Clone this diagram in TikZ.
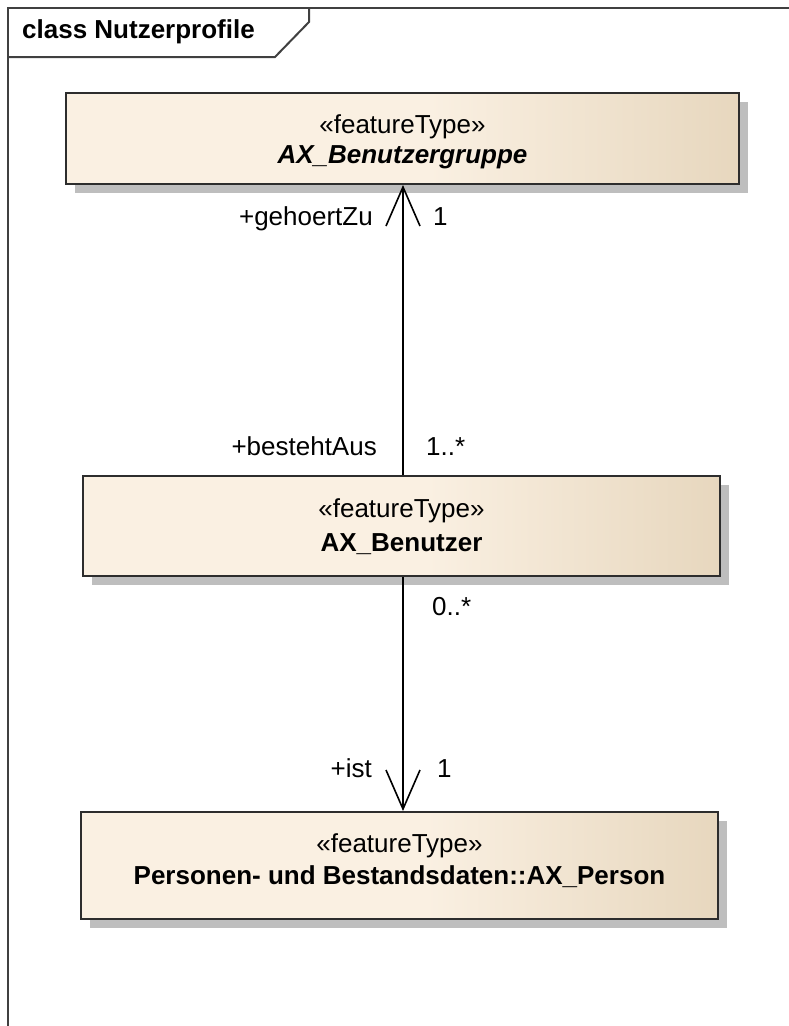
\documentclass[tikz,border=0pt]{standalone}
\usepackage{fontspec}
\setmainfont{Liberation Sans}
\usetikzlibrary{arrows.meta,shadows}
\definecolor{boxL}{RGB}{250,240,226}
\definecolor{boxR}{RGB}{231,215,190}
\definecolor{edge}{RGB}{45,45,45}
\definecolor{frameC}{RGB}{64,64,64}
\definecolor{shadowC}{RGB}{190,190,190}
\pgfdeclarehorizontalshading{umlbox}{100bp}{color(0bp)=(boxL); color(25bp)=(boxL); color(52bp)=(boxL); color(75bp)=(boxR); color(100bp)=(boxR)}
\tikzset{
  classbox/.style={draw=edge, line width=2pt, shade, shading=umlbox, rectangle, inner sep=0pt,
    drop shadow={shadow xshift=9pt, shadow yshift=-9pt, fill=shadowC, opacity=1}},
  txt/.style={font=\fontsize{26}{30}\selectfont, inner sep=0pt, anchor=base},
  bold/.style={txt, font=\fontsize{26}{30}\selectfont\bfseries},
  bolditalic/.style={txt, font=\fontsize{26}{30}\selectfont\bfseries\itshape},
  role/.style={font=\fontsize{26}{30}\selectfont, inner sep=0pt},
  assoc/.style={line width=1.6pt, draw=black, -{Straight Barb[length=39pt, width=34pt, line width=1.6pt]}},
}
\begin{document}
\begin{tikzpicture}[x=1pt, y=-1pt]
\useasboundingbox (0,0) rectangle (788,1026);
% frame
\draw[frameC, line width=2pt] (8,1040) -- (8,8) -- (800,8);
\draw[frameC, line width=2pt] (8,57) -- (275,57) -- (309,22) -- (309,8);
\node[bold, anchor=base west] (title) at (22,38) {class Nutzerprofile};
% boxes
\node[classbox, minimum width=673pt, minimum height=91pt] (b1) at (402.5,138.5) {};
\node[classbox, minimum width=637pt, minimum height=100pt] (b2) at (401.5,526) {};
\node[classbox, minimum width=637pt, minimum height=107pt] (b3) at (399.5,865.5) {};
% box texts
\node[txt] (b1s) at (402.5,133) {«featureType»};
\node[bolditalic] (b1n) at (402.5,163) {AX\_Benutzergruppe};
\node[txt] (b2s) at (401.5,517) {«featureType»};
\node[bold] (b2n) at (401.5,551) {AX\_Benutzer};
\node[txt] (b3s) at (399.5,852) {«featureType»};
\node[bold] (b3n) at (399.5,884) {Personen- und Bestandsdaten::AX\_Person};
% connectors
\coordinate (cx) at (403,0);
\draw[assoc] (b2.north -| cx) -- (b1.south -| cx);
\draw[assoc] (b2.south -| cx) -- (b3.north -| cx);
% role labels
\node[role, anchor=base east] (r1) at (373,225) {+gehoertZu};
\node[role, anchor=base west] (m1) at (433,225) {1};
\node[role, anchor=base east] (r2) at (377,455) {+bestehtAus};
\node[role, anchor=base west] (m2) at (426,455) {1..*};
\node[role, anchor=base west] (m3) at (432,615) {0..*};
\node[role, anchor=base east] (r4) at (372,777) {+ist};
\node[role, anchor=base west] (m4) at (437,777) {1};
\end{tikzpicture}
\end{document}
